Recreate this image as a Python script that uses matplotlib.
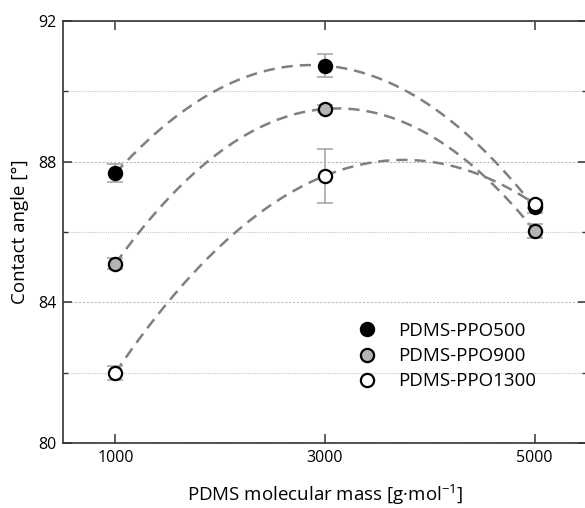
import numpy as np
import matplotlib
matplotlib.use("Agg")
import matplotlib.pyplot as plt
from matplotlib.ticker import FixedLocator

plt.rcParams['font.family'] = ['Open Sans', 'DejaVu Sans']

mass = [1000, 3000, 5000]
ppo500 = [87.67, 90.73, 86.70]
ppo500_err = [0.26, 0.32, 0.15]
ppo900 = [85.10, 89.50, 86.04]
ppo900_err = [0.15, 0.10, 0.20]
ppo1300 = [82.00, 87.60, 86.80]
ppo1300_err = [0.20, 0.77, 0.12]
labels = ['PDMS-PPO500', 'PDMS-PPO900', 'PDMS-PPO1300']
faces = ['black', '#b4b4b4', 'white']

fig = plt.figure(figsize=(5.85, 5.08), dpi=100)
ax = fig.add_axes([63/585, 1-443/508, (587-63)/585, (443-21)/508])

xs = np.linspace(1000, 5000, 200)
series = [(ppo500, ppo500_err), (ppo900, ppo900_err), (ppo1300, ppo1300_err)]
for (vals, errs) in series:
    c = np.polyfit(mass, vals, 2)
    ax.plot(xs, np.polyval(c, xs), ls=(0, (4.5, 2.8)), color='#808080', lw=1.8, zorder=2)
for (vals, errs), lab, fc in zip(series, labels, faces):
    ax.errorbar(mass, vals, yerr=errs, fmt='none', ecolor='#a0a0a0', elinewidth=1.1,
                capsize=6, capthick=1.1, zorder=3)
    ax.plot(mass, vals, 'o', ms=9.5, mfc=fc, mec='black', mew=1.6, ls='none',
            label=lab, zorder=4)

ax.set_xlim(500, 5500)
ax.set_ylim(80, 92)
ax.set_xticks([1000, 3000, 5000])
ax.set_yticks([80, 84, 88, 92])
ax.yaxis.set_minor_locator(FixedLocator([82, 86, 90]))

ax.grid(True, which='major', axis='y', color='#b8b8b8', ls=(0, (2, 1.5)), lw=0.8)
ax.grid(True, which='minor', axis='y', color='#c8c8c8', ls=(0, (1, 1)), lw=0.8)
ax.set_axisbelow(True)

ax.tick_params(which='major', direction='in', length=6.5, width=1.1, top=True, right=True,
               labelsize=11.5, color='#333333', pad=5)
ax.tick_params(which='minor', direction='in', length=3.5, width=1.0, right=True, color='#333333')
for s in ax.spines.values():
    s.set_linewidth(1.2)
    s.set_color('#333333')

ax.set_xlabel('PDMS molecular mass [g·mol$^{\\mathregular{-1}}$]', fontsize=13.5, labelpad=12)
ax.set_ylabel('Contact angle [°]', fontsize=13.5, labelpad=6)

ax.legend(loc='center', bbox_to_anchor=(0.731, 0.206), frameon=False, fontsize=13.5,
          handletextpad=1.1, labelspacing=0.38, handlelength=1.2)

fig.savefig('out.png', dpi=100)
